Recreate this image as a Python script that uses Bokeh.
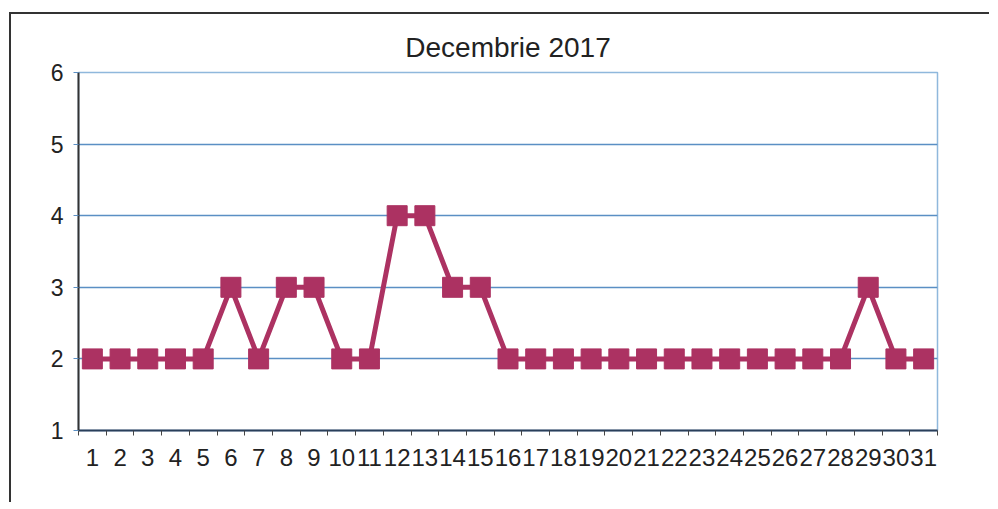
from bokeh.plotting import figure
from bokeh.models import FixedTicker, Range1d
from bokeh.embed import file_html
from bokeh.resources import INLINE

days = list(range(1, 32))
values = [2, 2, 2, 2, 2, 3, 2, 3, 3, 2, 2, 4, 4, 3, 3, 2, 2, 2, 2, 2,
          2, 2, 2, 2, 2, 2, 2, 2, 3, 2, 2]
y_ticks = [1, 2, 3, 4, 5, 6]
title_text = "Decembrie 2017"

line_color = "#ac3262"

p = figure(width=980, height=490, output_backend="svg", toolbar_location=None,
           x_range=Range1d(0.5, 31.5), y_range=Range1d(1, 6),
           min_border_left=67, min_border_right=54, min_border_top=58,
           min_border_bottom=74, title=title_text)
p.margin = (12, 0, 0, 9)
p.styles = {"border-top": "2px solid #333", "border-left": "2px solid #333"}

p.title.align = "center"
p.title.text_font = "Liberation Sans"
p.title.text_font_size = "28px"
p.title.text_font_style = "normal"
p.title.text_color = "#222222"
p.title.standoff = 19

p.line(days, values, line_color=line_color, line_width=5)
p.scatter(days, values, marker="square", size=20, fill_color=line_color,
          line_color=line_color)

p.outline_line_color = "#8fb8dc"
p.outline_line_width = 1.5

p.xgrid.grid_line_color = None
p.ygrid.ticker = FixedTicker(ticks=y_ticks)
p.ygrid.grid_line_color = "#5a8fc4"
p.ygrid.grid_line_width = 1.5

p.xaxis.ticker = FixedTicker(ticks=days, minor_ticks=[d + 0.5 for d in range(0, 32)])
p.xaxis.major_tick_out = 0
p.xaxis.major_tick_in = 0
p.xaxis.minor_tick_out = 5
p.xaxis.minor_tick_in = 0
p.xaxis.axis_line_color = "#2a3f5a"
p.xaxis.axis_line_width = 2
p.xaxis.minor_tick_line_color = "#444444"
p.xaxis.major_label_text_font = "Liberation Sans"
p.xaxis.major_label_text_font_size = "24px"
p.xaxis.major_label_text_color = "#222222"
p.xaxis.major_label_standoff = 13

p.yaxis.ticker = FixedTicker(ticks=y_ticks, minor_ticks=[])
p.yaxis.major_tick_out = 5
p.yaxis.major_tick_in = 0
p.yaxis.axis_line_color = "#333333"
p.yaxis.axis_line_width = 2
p.yaxis.major_tick_line_color = "#5a8fc4"
p.yaxis.major_label_text_font = "Liberation Sans"
p.yaxis.major_label_text_font_size = "23px"
p.yaxis.major_label_text_color = "#222222"
p.yaxis.major_label_standoff = 10

open("out.html", "w").write(file_html(p, INLINE))
